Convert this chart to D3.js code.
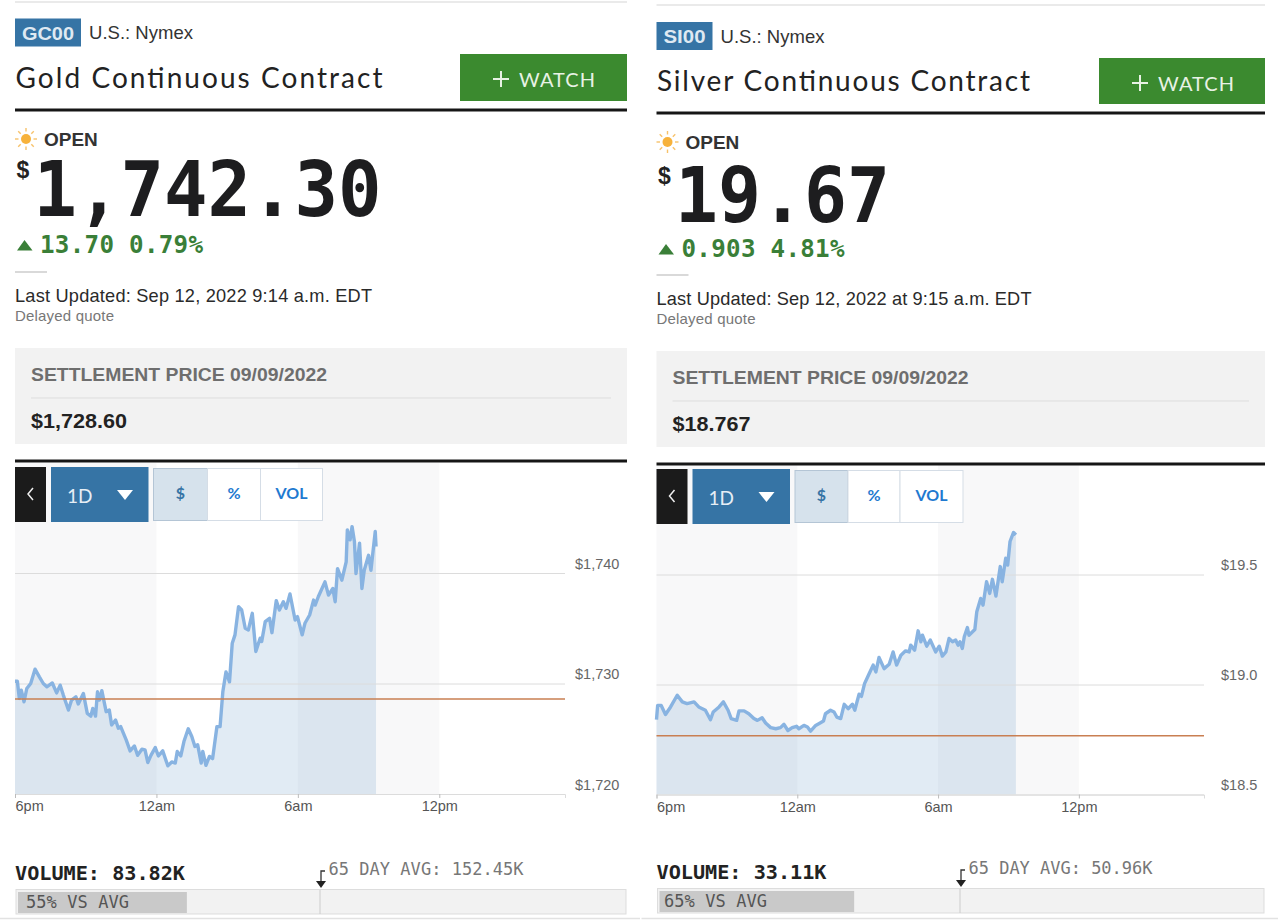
<!DOCTYPE html>
<html>
<head>
<meta charset="utf-8">
<title>Gold and Silver Continuous Contract</title>
<script src="https://cdn.jsdelivr.net/npm/d3@7"></script>
<style>
  html, body { margin: 0; padding: 0; background: #fff; }
  svg { display: block; }
</style>
</head>
<body>
<script>
'use strict'

// minutes after 6pm
const goldMinutes = [0, 6, 11, 16, 23, 30, 40, 51, 62, 72, 81, 95, 106, 115, 123, 136, 144, 155, 161, 174, 184, 193, 198, 205, 210, 215, 221, 232, 240, 246, 256, 263, 269, 283, 293, 304, 312, 323, 331, 338, 346, 357, 365, 376, 389, 399, 408, 413, 422, 430, 441, 450, 458, 465, 474, 478, 486, 495, 503, 514, 522, 529, 537, 546, 553, 560, 569, 577, 586, 594, 604, 613, 624, 628, 637, 648, 654, 665, 673, 683, 690, 700, 713, 719, 731, 738, 750, 760, 764, 772, 789, 798, 809, 815, 821, 832, 843, 846, 853, 858, 864, 868, 877, 883, 889, 900, 906, 917, 919]
const goldPrices = [1730.2, 1730.2, 1728.65, 1729.4, 1728.35, 1729.55, 1730, 1731.3, 1730.6, 1730, 1729.7, 1730.05, 1729.15, 1729.85, 1728.95, 1727.6, 1728.5, 1728.8, 1728.15, 1729.1, 1727.3, 1727.05, 1727.75, 1727.05, 1729.25, 1728.5, 1729.35, 1727.45, 1727.6, 1726.25, 1726.7, 1725.95, 1726.1, 1724.9, 1723.9, 1724.35, 1723.5, 1724.05, 1724, 1722.85, 1723.5, 1724.2, 1723.45, 1723.9, 1722.55, 1722.9, 1722.8, 1723.85, 1723.45, 1724.75, 1725.9, 1725.2, 1724.3, 1724.45, 1722.8, 1723.85, 1722.6, 1723.4, 1723.2, 1726.1, 1726.1, 1729.25, 1731.05, 1730.15, 1733.65, 1734.4, 1736.95, 1736.65, 1735, 1734.85, 1736.35, 1732.9, 1734.1, 1733.8, 1735.6, 1735.9, 1734.6, 1737.5, 1736.65, 1737.4, 1736.8, 1738.1, 1735.75, 1736.05, 1734.4, 1735.45, 1736.2, 1737.55, 1737.1, 1737.85, 1739.2, 1738, 1738.6, 1737.4, 1740.4, 1739.35, 1741, 1743.9, 1743, 1744.2, 1742.85, 1739.95, 1742.7, 1738.6, 1740.25, 1741.6, 1740.25, 1743.75, 1742.4]
const silverMinutes = [0, 3, 12, 23, 36, 53, 66, 78, 96, 108, 125, 138, 145, 160, 171, 183, 191, 205, 211, 224, 236, 249, 258, 270, 279, 292, 305, 317, 326, 336, 347, 358, 364, 377, 386, 394, 407, 415, 427, 432, 445, 454, 461, 471, 480, 490, 501, 507, 518, 524, 532, 544, 554, 561, 569, 582, 595, 605, 614, 625, 637, 646, 650, 660, 669, 676, 680, 691, 700, 714, 723, 731, 740, 748, 757, 765, 771, 776, 782, 787, 795, 799, 814, 819, 829, 835, 844, 852, 859, 868, 879, 884, 893, 898, 904, 913, 919]
const silverPrices = [18.84, 18.905, 18.905, 18.864, 18.898, 18.951, 18.921, 18.913, 18.921, 18.898, 18.883, 18.84, 18.875, 18.898, 18.921, 18.883, 18.845, 18.837, 18.88, 18.88, 18.867, 18.845, 18.837, 18.849, 18.825, 18.804, 18.799, 18.804, 18.819, 18.791, 18.804, 18.81, 18.799, 18.814, 18.807, 18.788, 18.814, 18.822, 18.834, 18.867, 18.883, 18.875, 18.852, 18.845, 18.91, 18.89, 18.91, 18.883, 18.956, 18.946, 19.004, 19.05, 19.088, 19.057, 19.123, 19.072, 19.092, 19.148, 19.088, 19.133, 19.153, 19.148, 19.179, 19.156, 19.244, 19.194, 19.224, 19.174, 19.202, 19.148, 19.174, 19.129, 19.148, 19.209, 19.194, 19.202, 19.179, 19.194, 19.164, 19.217, 19.259, 19.224, 19.25, 19.331, 19.391, 19.361, 19.467, 19.414, 19.478, 19.402, 19.536, 19.467, 19.574, 19.543, 19.65, 19.691, 19.68]

const timeTicks = [0, 360, 720, 1080]
const timeLabels = ['6pm', '12am', '6am', '12pm']
const darkSessions = [[0, 360], [720, 1080]]
const goldTicks = [1720, 1730, 1740]
const silverTicks = [18.5, 19, 19.5]
const goldSettlement = 1728.6
const silverSettlement = 18.767
const goldVolumePct = 55
const silverVolumePct = 65

const sans = '"Liberation Sans", Arial, sans-serif'
const mono = '"DejaVu Sans Mono", monospace'
const round = 'Lato, sans-serif'
const blue = '#3674a5'
const green = '#3a7f38'

const width = 1280
const height = 923

const svg = d3.select('body').append('svg')
  .attr('width', width)
  .attr('height', height)

function text (g, str, x, y, size, color, font, opts) {
  opts = opts || {}
  const t = g.append('text')
    .attr('x', x)
    .attr('y', y)
    .attr('font-size', size)
    .attr('font-family', font)
    .attr('font-weight', opts.bold ? 700 : 400)
    .attr('text-anchor', opts.anchor || 'start')
    .attr('fill', color)
    .text(str)
  if (opts.len) {
    t.attr('textLength', opts.len).attr('lengthAdjust', opts.squeeze ? 'spacingAndGlyphs' : 'spacing')
  }
  return t
}

function box (g, x, y, w, h, fill, stroke) {
  return g.append('rect')
    .attr('x', x)
    .attr('y', y)
    .attr('width', w)
    .attr('height', h)
    .attr('fill', fill)
    .attr('stroke', stroke || 'none')
}

function rule (g, x1, x2, y, color, w) {
  g.append('line')
    .attr('x1', x1)
    .attr('x2', x2)
    .attr('y1', y)
    .attr('y2', y)
    .attr('stroke', color)
    .attr('stroke-width', w)
}

function drawSun (g, cx, cy) {
  g.append('circle').attr('cx', cx).attr('cy', cy).attr('r', 5).attr('fill', '#f7b23b')
  d3.range(8).forEach(function (i) {
    const a = i * Math.PI / 4
    g.append('line')
      .attr('x1', cx + 7.5 * Math.cos(a))
      .attr('y1', cy + 7.5 * Math.sin(a))
      .attr('x2', cx + 11 * Math.cos(a))
      .attr('y2', cy + 11 * Math.sin(a))
      .attr('stroke', '#f7c26a')
      .attr('stroke-width', 1.4)
  })
}

function drawHeader (g, p) {
  box(g, p.left, p.badge[0], p.badge[1], 28, blue)
  text(g, p.symbol, p.left + p.badge[1] / 2, p.badge[0] + 21, 19, '#dfe9f2', sans, { bold: true, anchor: 'middle', len: p.badge[1] - 14, squeeze: true })
  text(g, 'U.S.: Nymex', p.left + p.badge[1] + 8, p.badge[0] + 20.5, 18.5, '#333', sans, { len: 104 })
  text(g, p.title, p.left + 0.5, p.titleY, 28, '#222', round, { len: p.titleLen })

  box(g, p.button[0], p.button[1], p.button[2], p.button[3], '#3b8a2f')
  const plusX = p.button[0] + 41
  const plusY = p.button[1] + 25
  g.append('path')
    .attr('d', `M${plusX - 8},${plusY}H${plusX + 8}M${plusX},${plusY - 8}V${plusY + 8}`)
    .attr('stroke', '#e8f2e5')
    .attr('stroke-width', 2)
  text(g, 'WATCH', plusX + 18, p.button[1] + 33, 20, '#e8f2e5', round, { len: 76 })

  rule(g, p.left, p.right, p.headY, '#161616', 3)
}

function drawQuote (g, p) {
  drawSun(g, p.left + 11, p.headY + 29)
  text(g, 'OPEN', p.left + 29, p.headY + 36, 19, '#333', sans, { bold: true })
  text(g, '$', p.left + 1.5, p.priceY - 38, 23, '#222', sans, { bold: true })
  text(g, p.price, p.left + 18.5, p.priceY, 77, '#1d1d1f', mono, { bold: true, len: p.priceLen, squeeze: true })

  const ty = p.changeY
  g.append('path')
    .attr('d', `M${p.left + 2},${ty + 10.5}L${p.left + 9.5},${ty}L${p.left + 17.5},${ty + 10.5}Z`)
    .attr('fill', green)
  text(g, p.change, p.left + 25, ty + 13, 24.2, green, mono, { bold: true, len: 163 })

  rule(g, p.left, p.left + 32, p.headY + 162, '#ccc', 1.5)
  text(g, p.updated, p.left, p.headY + 192, 18.2, '#2a2a2a', sans, { len: p.updatedLen })
  text(g, 'Delayed quote', p.left, p.headY + 211, 15, '#777', sans, { len: 99 })

  const by = p.headY + 238
  box(g, p.left, by, p.right - p.left, 96, '#f2f2f2')
  text(g, 'SETTLEMENT PRICE 09/09/2022', p.left + 16, by + 33, 18.5, '#6e6e6e', sans, { bold: true, len: 296, squeeze: true })
  rule(g, p.left + 16, p.right - 16, by + 50, '#ddd', 1)
  text(g, p.settleLabel, p.left + 16, by + 80, 21, '#222', sans, { bold: true, len: p.settleLen, squeeze: true })
}

function drawChart (g, p) {
  const x = d3.scaleLinear().domain([0, 1400]).range([p.left, p.plotRight])
  const y = d3.scaleLinear().domain(p.yDomain).range(p.yRange)
  const bottom = p.yRange[0]

  g.selectAll('rect.session')
    .data(darkSessions)
    .enter()
    .append('rect')
    .attr('class', 'session')
    .attr('x', d => x(d[0]))
    .attr('width', d => x(d[1]) - x(d[0]))
    .attr('y', p.chartTop)
    .attr('height', bottom - p.chartTop)
    .attr('fill', '#f8f8f9')

  const rows = d3.zip(p.minutes, p.prices)

  const area = d3.area()
    .x(d => x(d[0]))
    .y0(bottom)
    .y1(d => y(d[1]))
  g.append('path')
    .datum(rows)
    .attr('d', area)
    .attr('fill', '#6a9cc8')
    .attr('fill-opacity', 0.2)

  const yAxis = d3.axisRight(y)
    .tickValues(p.ticks)
    .tickFormat(p.format)
    .tickSize(0)
  const yg = g.append('g')
    .attr('transform', `translate(${p.plotRight},0)`)
    .call(yAxis)
  yg.select('.domain').remove()
  yg.selectAll('.tick').append('line')
    .attr('x1', p.left - p.plotRight)
    .attr('x2', 0)
    .attr('stroke', '#dcdcdc')
    .attr('stroke-width', 1)
  yg.selectAll('text')
    .attr('x', p.labelX - p.plotRight)
    .attr('dy', '-5px')
    .attr('font-family', sans)
    .attr('font-size', 14.5)
    .attr('fill', '#666')

  const line = d3.line()
    .x(d => x(d[0]))
    .y(d => y(d[1]))
  g.append('path')
    .datum(rows)
    .attr('d', line)
    .attr('fill', 'none')
    .attr('stroke', '#88b3e1')
    .attr('stroke-width', 3.4)
    .attr('stroke-linejoin', 'round')

  g.append('line')
    .attr('x1', p.left)
    .attr('x2', p.plotRight)
    .attr('y1', y(p.settlement))
    .attr('y2', y(p.settlement))
    .attr('stroke', '#c97f52')
    .attr('stroke-width', 1.5)

  const xAxis = d3.axisBottom(x)
    .tickValues(timeTicks)
    .tickFormat((d, i) => timeLabels[i])
    .tickSize(4)
    .tickPadding(3)
  const xg = g.append('g')
    .attr('transform', `translate(0,${bottom})`)
    .call(xAxis)
  xg.select('.domain').attr('stroke', '#dcdcdc')
  xg.selectAll('line').attr('stroke', '#bbb')
  xg.selectAll('text')
    .attr('font-family', sans)
    .attr('font-size', 14.5)
    .attr('fill', '#555')
  xg.select('.tick text').attr('text-anchor', 'start')
}

function drawNav (g, p) {
  const top = p.navY
  box(g, p.left, top, 31, 55, '#1b1b1b')
  g.append('path')
    .attr('d', `M${p.left + 18},${top + 21}L${p.left + 13},${top + 27}L${p.left + 18},${top + 33}`)
    .attr('fill', 'none')
    .attr('stroke', '#eee')
    .attr('stroke-width', 1.5)
  box(g, p.left + 36, top, 97.5, 55, blue)
  text(g, '1D', p.left + 52, top + 36, 19, '#e6eef5', round)
  g.append('path')
    .attr('d', `M${p.left + 102},${top + 23}H${p.left + 118}L${p.left + 110},${top + 33}Z`)
    .attr('fill', '#fff')

  const bx = p.left + 138.5
  const widths = p.navWidths
  box(g, bx, top + 1.5, widths[0], 52, '#d6e2ec', '#b4c5d5')
  box(g, bx + widths[0], top + 1.5, widths[1], 52, '#fff', '#d5dde6')
  box(g, bx + widths[0] + widths[1], top + 1.5, widths[2], 52, '#fff', '#d5dde6')
  text(g, '$', bx + widths[0] / 2, top + 32, 16, blue, round, { bold: true, anchor: 'middle' })
  text(g, '%', bx + widths[0] + widths[1] / 2, top + 32, 16, '#1f7ad0', round, { bold: true, anchor: 'middle' })
  text(g, 'VOL', bx + widths[0] + widths[1] + widths[2] / 2, top + 32, 16, '#1f7ad0', round, { bold: true, anchor: 'middle' })
}

function drawVolume (g, p) {
  const v = p.vol
  const pct = d3.scaleLinear().domain([0, 100]).range([p.left + 3, v.fullX])

  text(g, p.volume, p.left, v.y, 20.2, '#222', mono, { bold: true, len: 170 })
  text(g, p.average, v.avgX + 8.5, v.y - 5, 17, '#777', mono, { len: p.averageLen })

  g.append('path')
    .attr('d', `M${v.avgX + 5},${v.y - 9}H${v.avgX + 1}V${v.y + 1}`)
    .attr('fill', 'none')
    .attr('stroke', '#333')
    .attr('stroke-width', 1.3)
  g.append('path')
    .attr('d', `M${v.avgX - 4},${v.y + 1}H${v.avgX + 6}L${v.avgX + 1},${v.y + 8}Z`)
    .attr('fill', '#222')

  box(g, p.left + 1, v.y + 9.5, p.right - p.left - 2, 24.5, '#f2f2f2', '#ddd')
  box(g, p.left + 3, v.y + 12, pct(p.pct) - p.left - 3, 21, '#c9c9c9')
  g.append('line')
    .attr('x1', v.avgX)
    .attr('x2', v.avgX)
    .attr('y1', v.y + 10)
    .attr('y2', v.y + 34)
    .attr('stroke', '#ccc')
  text(g, p.pct + '% VS AVG', v.textX, v.y + 28, 17, '#555', mono, { len: 103 })

  rule(g, p.left - 15, p.right + 13, 918.5, '#e2e2e2', 1.5)
}

const panels = [
  {
    left: 15,
    right: 627,
    symbol: 'GC00',
    badge: [18.5, 66],
    title: 'Gold Continuous Contract',
    titleY: 88,
    titleLen: 367,
    button: [460, 54, 167, 47],
    headY: 110,
    price: '1,742.30',
    priceY: 216,
    priceLen: 348,
    change: '13.70 0.79%',
    changeY: 240,
    updated: 'Last Updated: Sep 12, 2022 9:14 a.m. EDT',
    updatedLen: 357,
    settleLabel: '$1,728.60',
    settleLen: 96,
    navY: 467,
    navWidths: [54, 53, 62],
    chartTop: 463,
    plotRight: 565,
    labelX: 575,
    minutes: goldMinutes,
    prices: goldPrices,
    ticks: goldTicks,
    format: d => '$' + d3.format(',')(d),
    yDomain: [1720, 1740],
    yRange: [794, 573],
    settlement: goldSettlement,
    volume: 'VOLUME: 83.82K',
    average: '65 DAY AVG: 152.45K',
    averageLen: 195,
    pct: goldVolumePct,
    vol: { y: 880, avgX: 320, fullX: 325, textX: 26 }
  },
  {
    left: 656.5,
    right: 1265,
    symbol: 'SI00',
    badge: [22, 56],
    title: 'Silver Continuous Contract',
    titleY: 91,
    titleLen: 373,
    button: [1099, 58, 166, 46],
    headY: 113,
    price: '19.67',
    priceY: 222,
    priceLen: 215,
    change: '0.903 4.81%',
    changeY: 244,
    updated: 'Last Updated: Sep 12, 2022 at 9:15 a.m. EDT',
    updatedLen: 375,
    settleLabel: '$18.767',
    settleLen: 78,
    navY: 469,
    navWidths: [53, 52, 63],
    chartTop: 465,
    plotRight: 1204,
    labelX: 1221,
    minutes: silverMinutes,
    prices: silverPrices,
    ticks: silverTicks,
    format: d => '$' + d3.format('.1f')(d),
    yDomain: [18.5, 19.5],
    yRange: [794.5, 574.5],
    settlement: silverSettlement,
    volume: 'VOLUME: 33.11K',
    average: '65 DAY AVG: 50.96K',
    averageLen: 184,
    pct: silverVolumePct,
    vol: { y: 879, avgX: 960, fullX: 959, textX: 664 }
  }
]

panels.forEach(function (p) {
  const g = svg.append('g')
  rule(g, p.left, p.right, p.headY - 108, '#e3e3e3', 1.5)
  drawChart(g, p)
  drawHeader(g, p)
  drawQuote(g, p)
  rule(g, p.left, p.right, p.headY + 351, '#161616', 3)
  drawNav(g, p)
  drawVolume(g, p)
})
</script>
</body>
</html>
